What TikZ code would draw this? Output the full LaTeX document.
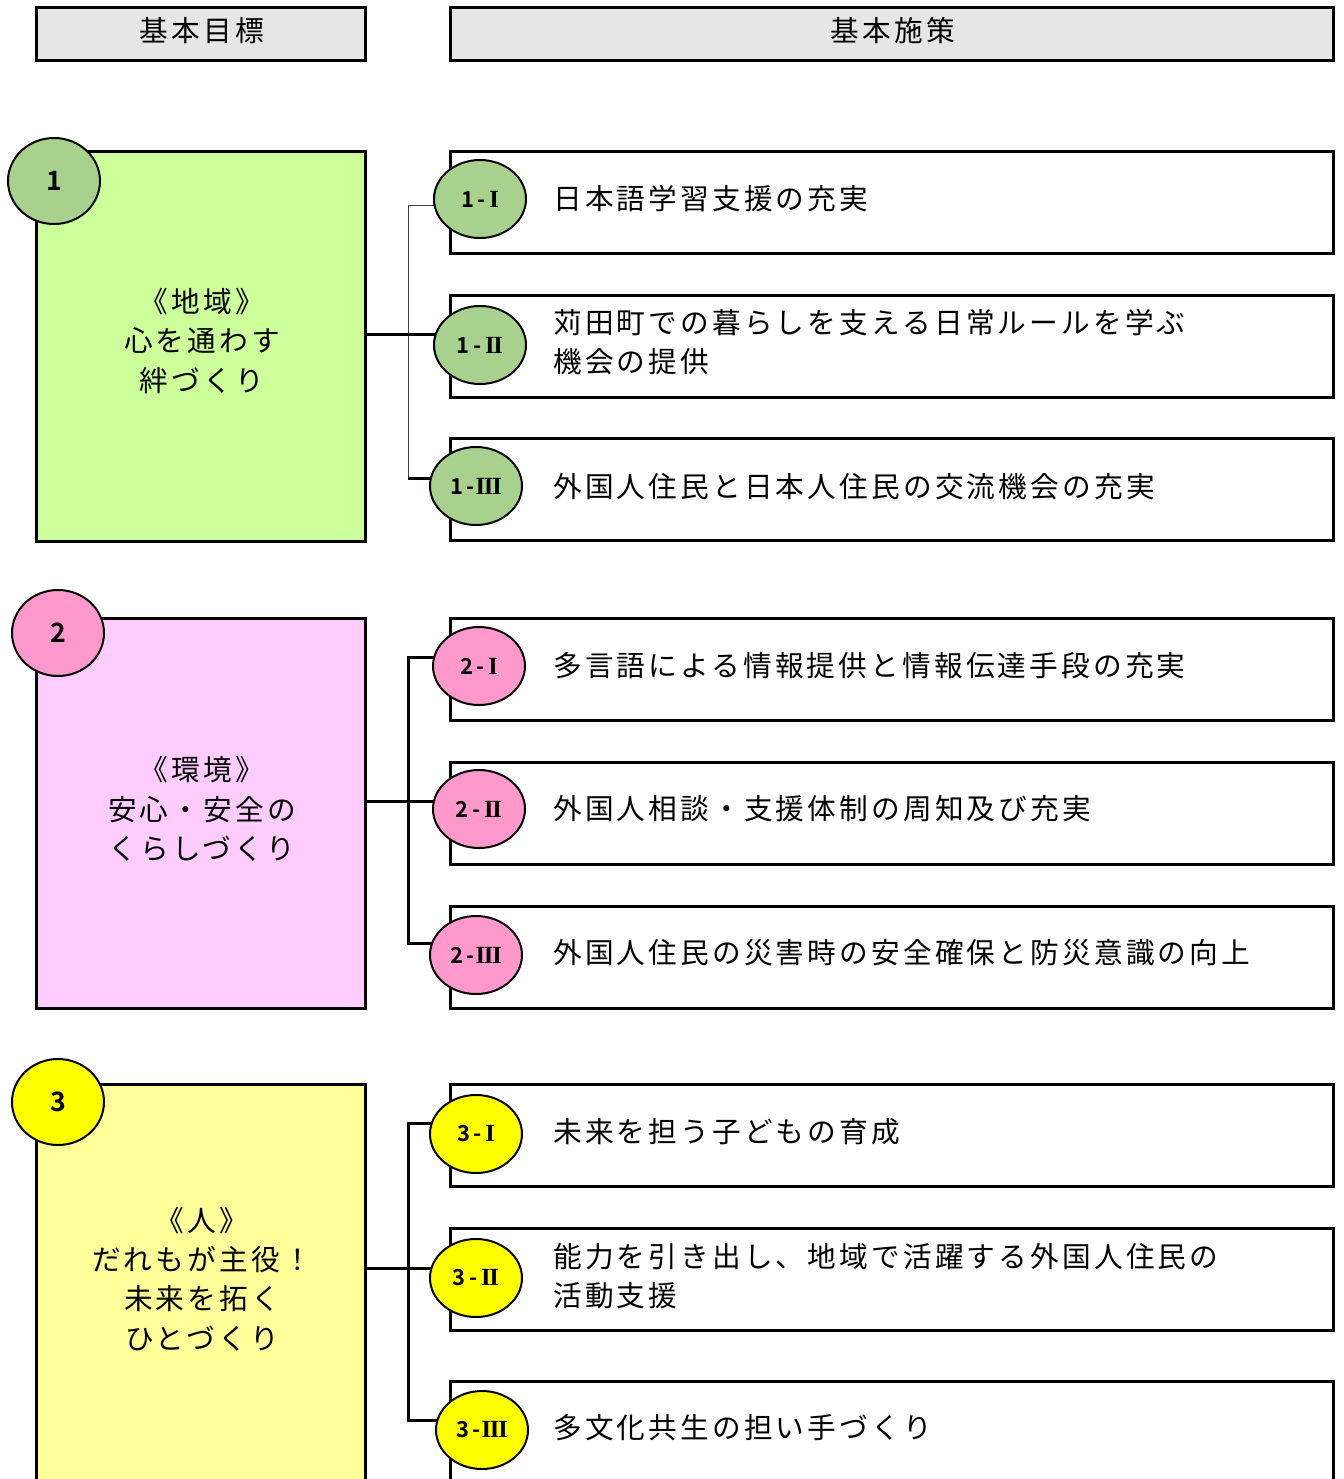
\documentclass[tikz,border=0pt]{standalone}
\usepackage{fontspec}
\usetikzlibrary{shapes.geometric}
\newfontfamily\jp[LetterSpace=11,BoldFont={Noto Sans CJK JP Bold}]{Noto Sans CJK JP}
\newfontfamily\jpnum[BoldFont={Noto Sans CJK JP Bold}]{Noto Sans CJK JP}
\newfontfamily\romnum[Scale=1.12]{Liberation Serif}
\newcommand{\rI}{{\romnum\bfseries I}}
\newcommand{\rII}{{\romnum\bfseries I\kern-0.05em I}}
\newcommand{\rIII}{{\romnum\bfseries I\kern-0.05em I\kern-0.05em I}}
\newcommand{\dsh}{\hspace{0.16em}-\hspace{0.16em}}
\newcommand{\dshb}{\hspace{0.16em}-\hspace{0.04em}}
\definecolor{hdrgray}{HTML}{E6E6E6}
\definecolor{goalA}{HTML}{CCFF99}
\definecolor{goalB}{HTML}{FFCCFF}
\definecolor{goalC}{HTML}{FFFF99}
\definecolor{circA}{HTML}{A9D18E}
\definecolor{circB}{HTML}{FF99CC}
\definecolor{circC}{HTML}{FFFF00}
\tikzset{
  hdrbox/.style={draw, line width=2.25pt, fill=hdrgray, inner sep=0pt, minimum height=39.75pt},
  goalbox/.style={draw, line width=2.25pt, inner sep=0pt, minimum width=246.75pt},
  measbox/.style={draw, line width=2.25pt, fill=white, inner sep=0pt, minimum width=662.25pt, minimum height=76.5pt},
  bigcirc/.style={ellipse, draw, line width=1.5pt, inner sep=0pt, minimum width=69pt, minimum height=64.5pt, font=\jpnum\bfseries\fontsize{20}{24}\selectfont},
  smallcirc/.style={ellipse, draw, line width=1.5pt, inner sep=0pt, minimum width=69pt, minimum height=58.5pt, font=\jpnum\bfseries\fontsize{16.5}{19}\selectfont},
  hdrtext/.style={font=\jp\fontsize{21.5}{29.6}\selectfont, inner sep=0pt},
  goaltext/.style={font=\jp\fontsize{21.5}{29.6}\selectfont, align=center, inner sep=0pt},
  meastext/.style={font=\jp\fontsize{21.5}{29.6}\selectfont, align=left, anchor=west, inner sep=0pt},
  thinline/.style={line width=0.75pt, black!75},
  thickline/.style={line width=2.25pt},
}
\begin{document}
\begin{tikzpicture}[x=0.75pt,y=-0.75pt]
\useasboundingbox (0,0) rectangle (1344,1479);
\clip (0,0) rectangle (1344,1479);
\fill[white] (0,0) rectangle (1344,1479);

% headers
\node[hdrbox, minimum width=246.75pt] (h1) at (200.5,33.5) {};
\node[hdrbox, minimum width=662.25pt] (h2) at (891.5,33.5) {};
\node[hdrtext] (h1t) at (202,31) {基本目標};
\node[hdrtext] (h2t) at (893,31) {基本施策};

% goal boxes
\node[goalbox, fill=goalA, minimum height=292.5pt] (g1) at (200.5,346) {};
\node[goalbox, fill=goalB, minimum height=292.5pt] (g2) at (200.5,813) {};
\node[goalbox, fill=goalC, minimum height=312pt] (g3) at (200.5,1292) {};

\node[goaltext] (g1t) at (202,341) {《地域》\\心を通わす\\絆づくり};
\node[goaltext] (g2t) at (202,809) {《環境》\\安心・安全の\\くらしづくり};
\node[goaltext] (g3t) at (202,1279) {《人》\\だれもが主役！\\未来を拓く\\ひとづくり};

% measure boxes
\node[measbox] (s11) at (891.5,202) {};
\node[measbox] (s12) at (891.5,346) {};
\node[measbox] (s13) at (891.5,489.5) {};
\node[measbox] (s21) at (891.5,669) {};
\node[measbox] (s22) at (891.5,813) {};
\node[measbox] (s23) at (891.5,957) {};
\node[measbox] (s31) at (891.5,1135.5) {};
\node[measbox] (s32) at (891.5,1279.5) {};
\node[measbox] (s33) at (891.5,1432) {};

\node[meastext] (s11t) at (553,199) {日本語学習支援の充実};
\node[meastext] (s12t) at (553,342) {苅田町での暮らしを支える日常ルールを学ぶ\\機会の提供};
\node[meastext] (s13t) at (553,487) {外国人住民と日本人住民の交流機会の充実};
\node[meastext] (s21t) at (553,666) {多言語による情報提供と情報伝達手段の充実};
\node[meastext] (s22t) at (553,809) {外国人相談・支援体制の周知及び充実};
\node[meastext] (s23t) at (553,953) {外国人住民の災害時の安全確保と防災意識の向上};
\node[meastext] (s31t) at (553,1132) {未来を担う子どもの育成};
\node[meastext] (s32t) at (553,1276) {能力を引き出し、地域で活躍する外国人住民の\\活動支援};
\node[meastext] (s33t) at (553,1428) {多文化共生の担い手づくり};

% junction coordinates
\coordinate (j1t) at (408,205);
\coordinate (j1m) at (408,334);
\coordinate (j1b) at (408,478);
\coordinate (j2t) at (408,657);
\coordinate (j2m) at (408,801);
\coordinate (j2b) at (408,943);
\coordinate (j3t) at (408,1123);
\coordinate (j3m) at (408,1268);
\coordinate (j3b) at (408,1420);

% circle centres
\coordinate (p11) at (480,199);
\coordinate (p12) at (480,345);
\coordinate (p13) at (476,486);
\coordinate (p21) at (479,666);
\coordinate (p22) at (479,809);
\coordinate (p23) at (476,955);
\coordinate (p31) at (476,1134);
\coordinate (p32) at (476,1278);
\coordinate (p33) at (482,1430);

% connectors section 1
\draw[thinline] (j1t) -- (j1b);
\draw[thinline] (j1t) -- (j1t -| p11);
\draw[thickline] (g1.east |- j1m) -- (j1m -| p12);
\draw[thickline] (j1b) -- (j1b -| p13);
% section 2
\draw[thickline] (j2t -| p21) -- (j2t) -- (j2b) -- (j2b -| p23);
\draw[thickline] (g2.east |- j2m) -- (j2m -| p22);
% section 3
\draw[thickline] (j3t -| p31) -- (j3t) -- (j3b) -- (j3b -| p33);
\draw[thickline] (g3.east |- j3m) -- (j3m -| p32);

% goal circles
\node[bigcirc, fill=circA] (c1) at (54,181) {1};
\node[bigcirc, fill=circB] (c2) at (58,633) {2};
\node[bigcirc, fill=circC] (c3) at (58,1102) {3};

% measure circles
\node[smallcirc, fill=circA] (c11) at (p11) {1\dsh\rI};
\node[smallcirc, fill=circA] (c12) at (p12) {1\dsh\rII};
\node[smallcirc, fill=circA] (c13) at (p13) {1\dshb\rIII};
\node[smallcirc, fill=circB] (c21) at (p21) {2\dsh\rI};
\node[smallcirc, fill=circB] (c22) at (p22) {2\dsh\rII};
\node[smallcirc, fill=circB] (c23) at (p23) {2\dshb\rIII};
\node[smallcirc, fill=circC] (c31) at (p31) {3\dsh\rI};
\node[smallcirc, fill=circC] (c32) at (p32) {3\dsh\rII};
\node[smallcirc, fill=circC] (c33) at (p33) {3\dshb\rIII};
\end{tikzpicture}
\end{document}
